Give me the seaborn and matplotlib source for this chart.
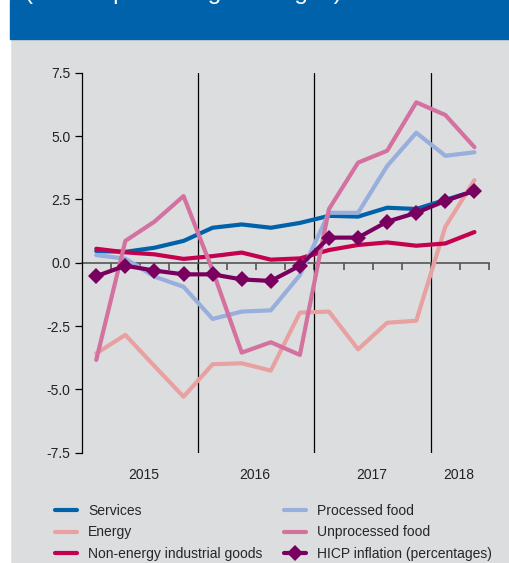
import numpy as np
import pandas as pd
import seaborn as sns
import matplotlib
matplotlib.use("Agg")
import matplotlib.pyplot as plt
from matplotlib.patches import Rectangle
from matplotlib.lines import Line2D

quarters = ["2015Q1", "2015Q2", "2015Q3", "2015Q4", "2016Q1", "2016Q2", "2016Q3",
            "2016Q4", "2017Q1", "2017Q2", "2017Q3", "2017Q4", "2018Q1", "2018Q2"]
services = [0.46, 0.43, 0.59, 0.86, 1.38, 1.51, 1.38, 1.57, 1.85, 1.82, 2.17, 2.12, 2.48, 2.83]
energy = [-3.58, -2.85, -4.08, -5.29, -4.01, -3.97, -4.26, -1.97, -1.93, -3.42, -2.37, -2.29, 1.42, 3.26]
neig = [0.55, 0.41, 0.33, 0.15, 0.26, 0.40, 0.12, 0.17, 0.50, 0.70, 0.80, 0.67, 0.76, 1.21]
processed = [0.30, 0.16, -0.55, -0.95, -2.22, -1.93, -1.88, -0.49, 1.97, 1.97, 3.82, 5.13, 4.22, 4.36]
unprocessed = [-3.84, 0.86, 1.62, 2.63, -0.30, -3.55, -3.14, -3.64, 2.12, 3.95, 4.42, 6.33, 5.83, 4.56]
hicp = [-0.53, -0.12, -0.31, -0.46, -0.46, -0.66, -0.72, -0.12, 0.99, 0.99, 1.62, 1.97, 2.44, 2.84]

series_names = ["Services", "Energy", "Non-energy industrial goods",
                "Processed food", "Unprocessed food", "HICP inflation (percentages)"]
series_values = [services, energy, neig, processed, unprocessed, hicp]
colors = ["#0062A9", "#E8A1A1", "#C4004F", "#98AEDC", "#D3719F", "#7A005F"]
year_labels = ["2015", "2016", "2017", "2018"]
year_centers = [2015.53, 2016.49, 2017.49, 2018.24]
y_ticks = [7.5, 5.0, 2.5, 0.0, -2.5, -5.0, -7.5]

xnum = [int(q[:4]) + (int(q[-1]) - 0.5) / 4 for q in quarters]
rows = []
for name, vals in zip(series_names, series_values):
    for x, v in zip(xnum, vals):
        rows.append({"x": x, "value": v, "series": name})
df = pd.DataFrame(rows)

sns.set_theme(style="white")
plt.rcParams["font.family"] = ["Liberation Sans", "DejaVu Sans"]

bg = "#DCDDDF"
fig = plt.figure(figsize=(5.09, 5.63), dpi=100, facecolor=bg)
W, H = 509, 563
# white left strip and blue header
fig.patches.append(Rectangle((0, 0), 10 / W, 1, transform=fig.transFigure, color="white", zorder=0))
fig.patches.append(Rectangle((10 / W, 1 - 39 / H), 1, 39 / H, transform=fig.transFigure,
                             color="#0062AB", zorder=0))
fig.text(25 / W, 1 + 1 / H, "(annual percentage changes)", color="white", fontsize=17.6,
         va="baseline", ha="left")

ax = fig.add_axes([81.7 / W, 1 - 452.7 / H, (489 - 81.7) / W, (452.7 - 72.7) / H])
ax.set_facecolor(bg)

palette = dict(zip(series_names, colors))
line_names = series_names[:-1]
sns.lineplot(data=df[df["series"].isin(line_names)], x="x", y="value", hue="series",
             hue_order=line_names, palette=palette, linewidth=3.0, ax=ax, legend=False,
             zorder=3)
sns.lineplot(data=df[df["series"] == series_names[-1]], x="x", y="value", color=colors[-1],
             linewidth=3.0, marker="D", markersize=8, markeredgewidth=0, ax=ax,
             legend=False, zorder=4)

ax.set_xlim(2015, 2018.5)
ax.set_ylim(-7.5, 7.5)
for yr in [2016, 2017, 2018]:
    ax.axvline(yr, color="black", linewidth=0.9, zorder=1)

for s in ["top", "right"]:
    ax.spines[s].set_visible(False)
ax.spines["left"].set_color("black")
ax.spines["left"].set_linewidth(0.9)
ax.spines["bottom"].set_position(("data", 0))
ax.spines["bottom"].set_color("#555555")
ax.spines["bottom"].set_linewidth(1.2)
ax.spines["bottom"].set_zorder(2)
ax.set_xticks(np.arange(2015.25, 2018.51, 0.25))
ax.set_xticklabels([])
ax.tick_params(axis="x", direction="out", length=5, width=1.2, color="#555555", bottom=True)
ax.set_yticks(y_ticks)
ax.set_yticklabels([f"{t:.1f}" for t in y_ticks])
ax.tick_params(axis="y", direction="out", length=5, width=0.9, color="black", left=True,
               labelsize=10, labelcolor="#222222", pad=3)
ax.set_xlabel("")
ax.set_ylabel("")
for lab, xc in zip(year_labels, year_centers):
    ax.text(xc, -8.1, lab, ha="center", va="top", fontsize=10, color="#222222")

handles = []
for name, c in zip(series_names, colors):
    if name == series_names[-1]:
        handles.append(Line2D([], [], color=c, linewidth=3.0, marker="D", markersize=8,
                              markeredgewidth=0))
    else:
        handles.append(Line2D([], [], color=c, linewidth=3.0))
fig.legend(handles, series_names, ncol=2, loc="upper left",
           bbox_to_anchor=(55 / W, 1 - 504 / H), frameon=False, fontsize=10,
           handlelength=1.6, handletextpad=0.8, columnspacing=1.5, labelspacing=0.53,
           borderpad=0, borderaxespad=0)

fig.savefig("out.png", dpi=100, facecolor=bg)
